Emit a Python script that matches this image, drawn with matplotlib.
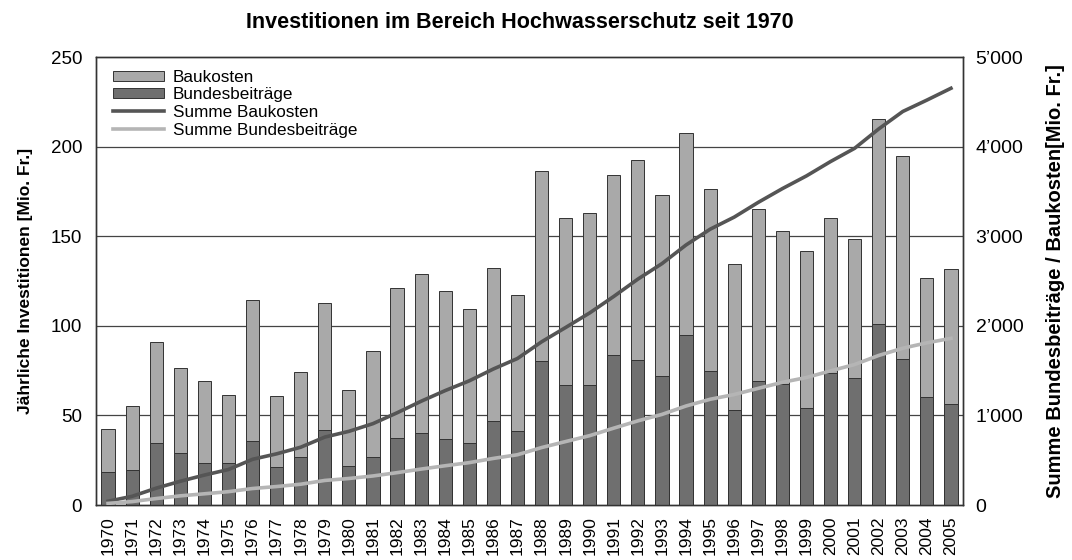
import matplotlib
matplotlib.use("Agg")
import matplotlib.pyplot as plt
from matplotlib.patches import Patch
from matplotlib.lines import Line2D

plt.rcParams['font.family'] = ['Liberation Sans', 'DejaVu Sans']

years = [str(y) for y in range(1970, 2006)]
baukosten = [42.5, 55.2, 90.7, 76.7, 69.4, 61.5, 114.4, 60.6, 74.4, 113.0,
             64.3, 85.9, 121.3, 128.9, 119.3, 109.4, 132.4, 117.2, 186.4, 160.4,
             163.2, 184.0, 192.6, 173.2, 207.7, 176.2, 134.5, 165.4, 153.1, 141.7,
             160.4, 148.3, 215.5, 194.8, 126.5, 131.9]
bundesbeitraege = [18.3, 19.5, 34.8, 29.2, 23.6, 23.6, 35.9, 21.2, 27.0, 41.9,
                   22.0, 27.0, 37.6, 40.4, 36.9, 34.8, 46.9, 41.3, 80.3, 66.7,
                   66.7, 83.9, 80.7, 71.9, 94.6, 74.5, 53.1, 69.3, 67.3, 53.9,
                   73.8, 71.0, 100.8, 81.2, 60.2, 56.6]
summe_baukosten = [42, 97, 188, 265, 334, 396, 510, 571, 645, 758,
                   822, 908, 1029, 1158, 1277, 1386, 1518, 1635, 1821, 1981,
                   2144, 2328, 2521, 2694, 2902, 3078, 3213, 3378, 3531, 3673,
                   3833, 3981, 4197, 4392, 4519, 4651]
summe_bundesbeitraege = [18, 38, 72, 102, 125, 149, 184, 206, 232, 274,
                         296, 324, 361, 401, 438, 473, 520, 561, 641, 708,
                         774, 858, 939, 1011, 1105, 1180, 1233, 1302, 1369, 1423,
                         1497, 1568, 1669, 1750, 1810, 1860]
left_ticks = [0, 50, 100, 150, 200, 250]
right_ticks = [0, 1000, 2000, 3000, 4000, 5000]
right_ticklabels = ["0", "1\u2019000", "2\u2019000", "3\u2019000", "4\u2019000", "5\u2019000"]

light = '#a9a9a9'
dark = '#6f6f6f'
line_dark = '#555555'
line_light = '#b5b5b5'

fig = plt.figure(figsize=(10.72, 5.6), dpi=100)
ax = fig.add_axes([96/1072, 55/560, (963-96)/1072, (505-57)/560])
x = list(range(len(years)))

ax.bar(x, baukosten, width=0.55, color=light, edgecolor='#333333', linewidth=0.7, zorder=2)
ax.bar(x, bundesbeitraege, width=0.55, color=dark, edgecolor='#333333', linewidth=0.7, zorder=3)
ax.set_xlim(-0.5, len(years) - 0.5)
ax.set_ylim(0, 250)
ax.set_yticks(left_ticks)
ax.set_yticklabels([str(t) for t in left_ticks], fontsize=13.5)
ax.set_xticks(x)
ax.set_xticklabels(years, rotation=90, fontsize=12.5)
ax.tick_params(axis='both', length=0)
ax.tick_params(axis='y', pad=10)
ax.tick_params(axis='x', pad=8)
for t in [50, 100, 150, 200]:
    ax.axhline(t, color='#444444', linewidth=0.9, zorder=1)
for s in ax.spines.values():
    s.set_color('#333333')
    s.set_linewidth(1.0)
ax.set_ylabel('Jährliche Investitionen [Mio. Fr.]', fontsize=12.5, fontweight='bold')
ax.yaxis.set_label_coords(-0.0727, 0.5)

ax2 = ax.twinx()
ax2.plot(x, summe_baukosten, color=line_dark, linewidth=2.6, zorder=5)
ax2.plot(x, summe_bundesbeitraege, color=line_light, linewidth=2.6, zorder=5)
ax2.set_ylim(0, 5000)
ax2.set_yticks(right_ticks)
ax2.set_yticklabels(right_ticklabels, fontsize=14)
ax2.tick_params(axis='y', length=0, pad=9)
for s in ax2.spines.values():
    s.set_color('#333333')
    s.set_linewidth(1.0)
ax2.set_ylabel('Summe Bundesbeiträge / Baukosten[Mio. Fr.]', fontsize=14.5, fontweight='bold')
ax2.yaxis.set_label_coords(1.096, 0.5)

handles = [Patch(facecolor=light, edgecolor='#333333', linewidth=0.7),
           Patch(facecolor=dark, edgecolor='#333333', linewidth=0.7),
           Line2D([], [], color=line_dark, linewidth=2.6),
           Line2D([], [], color=line_light, linewidth=2.6)]
labels = ['Baukosten', 'Bundesbeiträge', 'Summe Baukosten', 'Summe Bundesbeiträge']
ax2.legend(handles, labels, loc='upper left', bbox_to_anchor=(0.005, 1.0), frameon=False,
           fontsize=12.3, handlelength=3.0, handleheight=0.55, handletextpad=0.5,
           labelspacing=0.15, borderaxespad=0.35)

fig.suptitle('Investitionen im Bereich Hochwasserschutz seit 1970', x=0.485, y=0.978,
             fontsize=15.5, fontweight='bold')

fig.savefig('out.png', dpi=100)
